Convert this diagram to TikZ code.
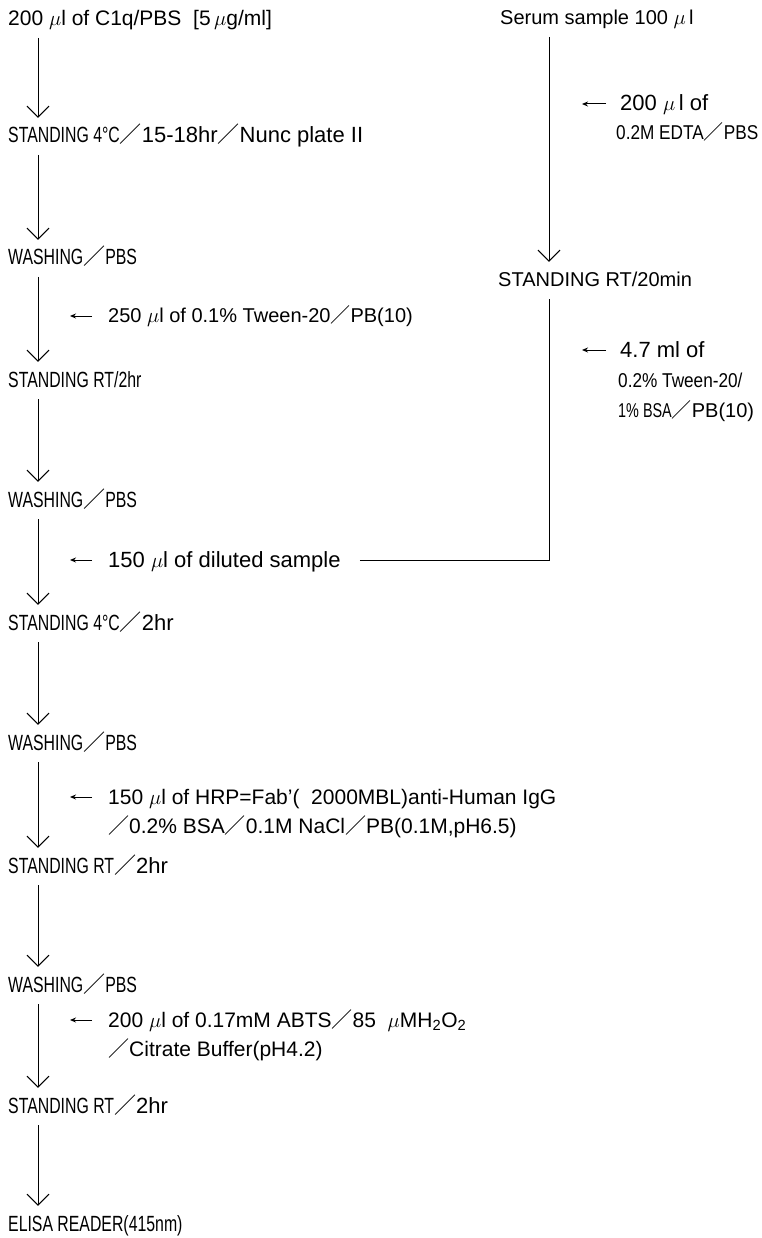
\documentclass[tikz,border=0pt]{standalone}
\usepackage{fontspec}
\setmainfont{Liberation Sans}
\newfontfamily\narrowfont[FakeStretch=0.72]{Liberation Sans}
\newfontfamily\semifont[FakeStretch=0.86]{Liberation Sans}
\newfontfamily\cjkfont{Noto Sans CJK JP}
\usetikzlibrary{arrows.meta}
\newcommand{\fsl}{{\cjkfont ／}}
\newcommand{\ul}{$\mu$l}

\begin{document}
\begin{tikzpicture}[x=1pt,y=-1pt,
  lbl/.style={anchor=base west,inner sep=0pt,text height=14pt,text depth=0pt,font=\fontsize{20}{24}\selectfont},
  big/.style={lbl,font=\fontsize{22}{26}\selectfont},
  stage/.style={lbl,font=\fontsize{22}{26}\selectfont},
  flow/.style={line width=1pt,-{Straight Barb[length=11pt,width=22pt,line width=1pt]},shorten <=12pt,shorten >=11pt},
  feed/.style={line width=1pt,-{Stealth[length=6pt,width=5pt]}}]
  \useasboundingbox (0,0) rectangle (761,1238);
  \node[lbl,font=\fontsize{21}{25}\selectfont] (a1) at (8,26) {200 \ul\ of C1q/PBS\ \ [5\,$\mu$g/ml]};
  \node[stage] (a2) at (8,143) {{\narrowfont STANDING 4°C}\fsl 15-18hr\fsl Nunc plate II};
  \node[stage] (a3) at (8,265) {\narrowfont WASHING\fsl PBS};
  \node[stage] (a4) at (8,387) {\narrowfont STANDING RT/2hr};
  \node[stage] (a5) at (8,507) {\narrowfont WASHING\fsl PBS};
  \node[stage] (a6) at (8,630) {{\narrowfont STANDING 4°C}\fsl 2hr};
  \node[stage] (a7) at (8,750) {\narrowfont WASHING\fsl PBS};
  \node[stage] (a8) at (8,873) {{\narrowfont STANDING RT}\fsl 2hr};
  \node[stage] (a9) at (8,992) {\narrowfont WASHING\fsl PBS};
  \node[stage] (a10) at (8,1113) {{\narrowfont STANDING RT}\fsl 2hr};
  \node[stage] (a11) at (8,1231) {\narrowfont ELISA READER(415nm)};
  \foreach \i/\j in {a1/a2,a2/a3,a3/a4,a4/a5,a5/a6,a6/a7,a7/a8,a8/a9,a9/a10,a10/a11}
    \draw[flow] ([xshift=30pt]\i.base west) -- ([xshift=30pt]\j.north west);
  \node[lbl] (n1) at (108,323) {250 \ul\ of 0.1\% Tween-20\fsl PB(10)};
  \node[big] (n2) at (108,567) {150 \ul\ of diluted sample};
  \node[lbl,font=\fontsize{21}{25}\selectfont] (n3) at (108,804) {150 \ul\ of HRP=Fab'(\ \ 2000MBL)anti-Human IgG};
  \node[lbl,font=\fontsize{21}{25}\selectfont] (n3b) at (108,833) {\fsl 0.2\% BSA\fsl 0.1M NaCl\fsl PB(0.1M,pH6.5)};
  \node[lbl,font=\fontsize{21}{25}\selectfont] (n4) at (108,1027) {200 \ul\ of 0.17mM ABTS\fsl 85\ \ $\mu$MH\textsubscript{2}O\textsubscript{2}};
  \node[lbl,font=\fontsize{21}{25}\selectfont] (n4b) at (108,1056) {\fsl Citrate Buffer(pH4.2)};
  \foreach \n in {n1,n2,n3,n4}
    \draw[feed] ([xshift=-16pt]\n.west) -- ([xshift=-38pt]\n.west);
  \node[lbl] (r1) at (500,25) {Serum sample 100 $\mu$\,l};
  \node[lbl] (r2) at (498,287) {STANDING RT/20min};
  \node[big] (m1) at (620,111) {200 $\mu$\,l of};
  \node[lbl] (m1b) at (616,140) {{\semifont 0.2M EDTA}\fsl{\semifont PBS}};
  \node[big] (m2) at (620,357) {4.7 ml of};
  \node[lbl] (m2b) at (618,387) {\semifont 0.2\% Tween-20/};
  \node[lbl] (m2c) at (618,417) {{\narrowfont 1\% BSA}\fsl PB(10)};
  \foreach \n in {m1,m2}
    \draw[feed] ([xshift=-14pt]\n.west) -- ([xshift=-38pt]\n.west);
  \draw[flow] ([xshift=49pt]r1.base west) -- ([xshift=51pt]r2.north west);
  \draw[line width=1pt,shorten <=19pt,shorten >=12pt] (n2.east) -| ([xshift=51pt]r2.base west);
\end{tikzpicture}
\end{document}
